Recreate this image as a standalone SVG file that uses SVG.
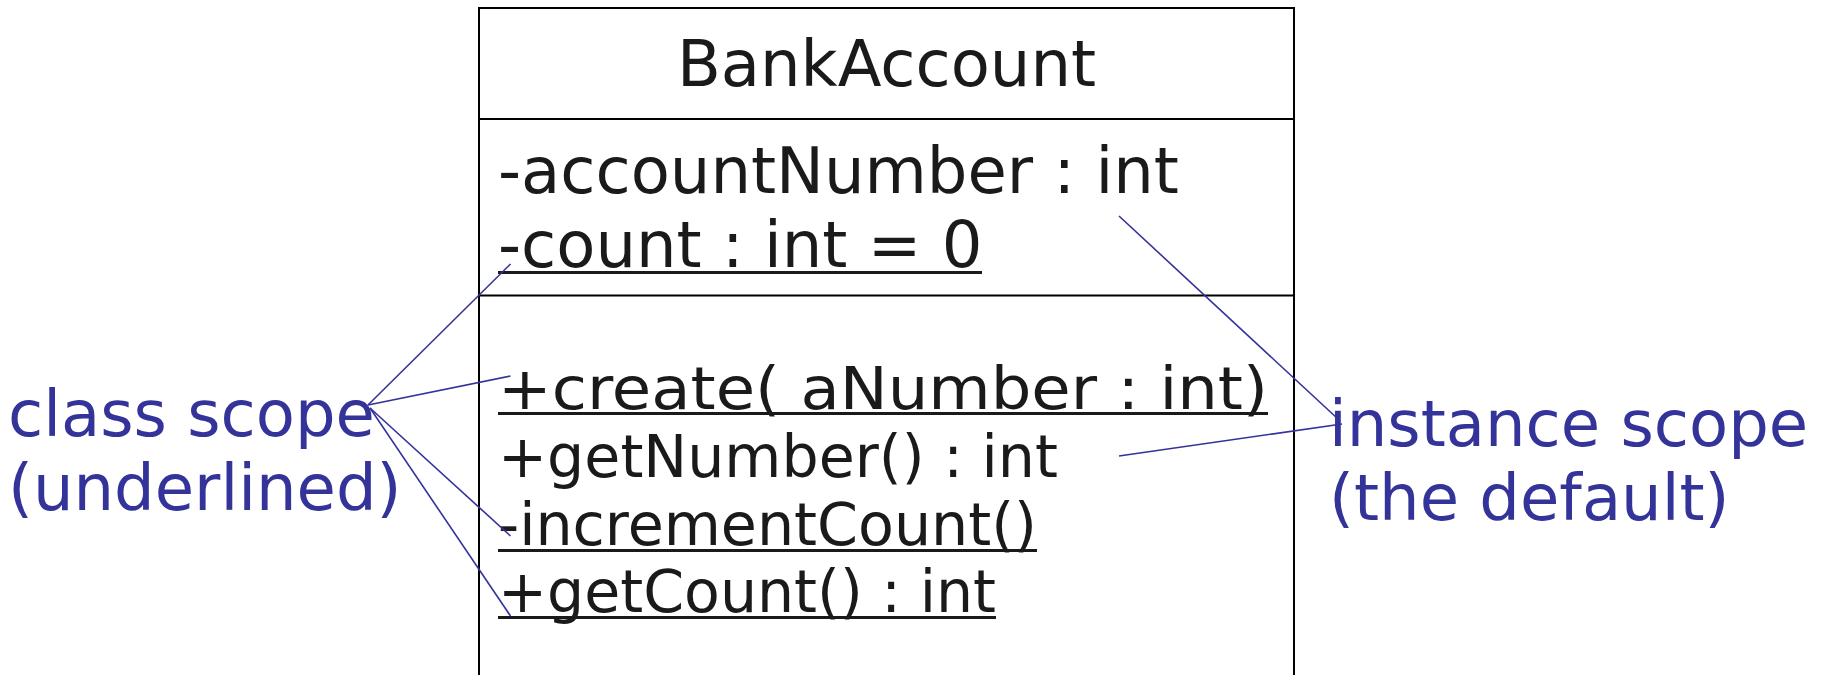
<svg xmlns="http://www.w3.org/2000/svg" width="1825" height="675" viewBox="0 0 1825 675">
  <style>
    .box { fill: #ffffff; stroke: #000000; stroke-width: 2; }
    .sep { stroke: #000000; stroke-width: 2; }
    .uml { font-family: "DejaVu Sans", "Liberation Sans", sans-serif; font-size: 64px; fill: #1a1a1a; }
    .op { font-size: 59px; }
    .ul { stroke: #1a1a1a; stroke-width: 3; }
    .note { font-family: "DejaVu Sans", "Liberation Sans", sans-serif; font-size: 64px; fill: #333399; }
    .link { stroke: #333399; stroke-width: 1.6; fill: none; }
  </style>
  <rect width="1825" height="675" fill="#ffffff"/>

  <!-- UML class: BankAccount (box runs past the bottom edge) -->
  <g id="BankAccount">
    <rect class="box" x="479" y="8" width="815" height="720"/>
    <line class="sep" x1="479" y1="119" x2="1294" y2="119"/>
    <line class="sep" x1="479" y1="295.5" x2="1294" y2="295.5"/>
    <text class="uml" x="886.5" y="86" text-anchor="middle">BankAccount</text>
    <!-- attributes -->
    <text class="uml" x="498" y="193">-accountNumber : int</text>
    <text class="uml" x="498" y="267">-count : int = 0</text>
    <!-- operations -->
    <text class="uml op" x="498" y="409" textLength="770" lengthAdjust="spacingAndGlyphs">+create( aNumber : int)</text>
    <text class="uml op" x="498" y="477" textLength="560" lengthAdjust="spacingAndGlyphs">+getNumber() : int</text>
    <text class="uml op" x="498" y="545" textLength="539" lengthAdjust="spacingAndGlyphs">-incrementCount()</text>
    <text class="uml op" x="498" y="612" textLength="498" lengthAdjust="spacingAndGlyphs">+getCount() : int</text>
    <!-- underlines mark class-scope (static) members -->
    <line class="ul" x1="498" y1="272.5" x2="982" y2="272.5"/>
    <line class="ul" x1="498" y1="413.5" x2="1268" y2="413.5"/>
    <line class="ul" x1="498" y1="550.5" x2="1037" y2="550.5"/>
    <line class="ul" x1="498" y1="617.5" x2="996" y2="617.5"/>
  </g>

  <!-- annotation: class scope -->
  <g id="class-scope-note">
    <text class="note" x="8" y="436">class scope</text>
    <text class="note" x="8" y="510">(underlined)</text>
  </g>

  <!-- annotation: instance scope -->
  <g id="instance-scope-note">
    <text class="note" x="1329" y="446">instance scope</text>
    <text class="note" x="1329" y="520">(the default)</text>
  </g>

  <!-- pointer lines from the notes to the members -->
  <g id="connectors">
    <line class="link" x1="368" y1="405" x2="510.5" y2="264"/>
    <line class="link" x1="368" y1="405" x2="510.5" y2="376"/>
    <line class="link" x1="370" y1="408" x2="510.5" y2="536"/>
    <line class="link" x1="370" y1="408" x2="510.5" y2="616"/>
    <line class="link" x1="1119" y1="216" x2="1338" y2="419"/>
    <line class="link" x1="1119" y1="456" x2="1342" y2="424"/>
  </g>
</svg>
